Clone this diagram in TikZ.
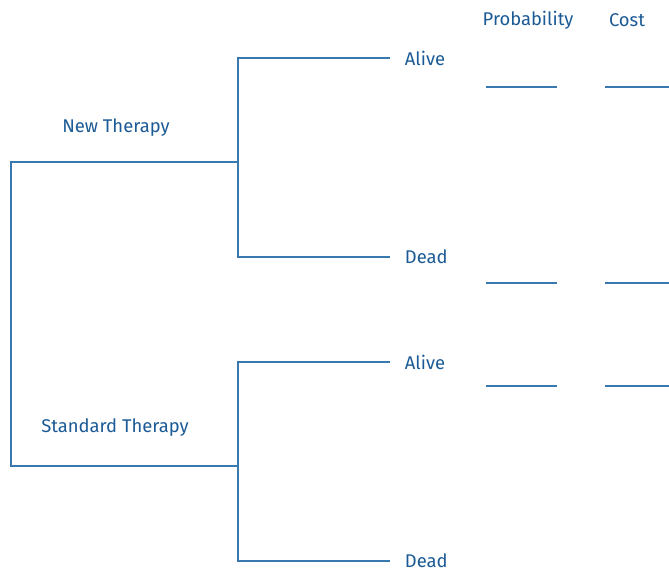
\documentclass[tikz,border=0pt]{standalone}
\usepackage{fontspec}
\setmainfont{Fira Sans}
\definecolor{treeline}{HTML}{3A78B0}
\definecolor{treetext}{HTML}{1B5A95}
\tikzset{
  branch/.style={draw=treeline, line width=1.1pt},
  blank/.style={draw=treeline, line width=0.9pt},
  outcome/.style={anchor=west, inner xsep=11pt, inner ysep=0pt, text=treetext, font=\fontsize{13.8}{16}\selectfont},
  label/.style={text=treetext, font=\fontsize{13.8}{16}\selectfont, inner sep=0pt},
}
\begin{document}
\begin{tikzpicture}[x=0.75pt, y=-0.75pt]
\useasboundingbox (0,0) rectangle (669,581);

% column headings
\node[label] (hprob) at (528,20) {Probability};
\node[label] (hcost) at (627,20) {Cost};

% strategy labels
\node[label] (newt) at (116,128) {New Therapy};
\node[label] (stdt) at (115,428) {Standard Therapy};

% decision and chance points
\coordinate (root1) at (11,162);
\coordinate (root2) at (11,466);
\coordinate (cnew) at (238,162);
\coordinate (cstd) at (238,466);
\coordinate (cnewtop) at (238,58);
\coordinate (cnewbot) at (238,257);
\coordinate (cstdtop) at (238,362);
\coordinate (cstdbot) at (238,561);

% outcomes
\node[outcome] (alive1) at (390,58) {Alive};
\node[outcome] (dead1) at (390,257) {Dead};
\node[outcome] (alive2) at (390,362) {Alive};
\node[outcome] (dead2) at (390,561) {Dead};

% decision branch
\draw[branch] (cnew) -- (root1) -- (root2) -- (cstd);

% chance branches
\draw[branch] (alive1.west) -- (cnewtop) -- (cnewbot) -- (dead1.west);
\draw[branch] (alive2.west) -- (cstdtop) -- (cstdbot) -- (dead2.west);

% blanks for probability and cost
\foreach \yy in {87,283,386} {
  \draw[blank] (486,\yy) -- (557,\yy);
  \draw[blank] (605,\yy) -- (669,\yy);
}
\end{tikzpicture}
\end{document}
